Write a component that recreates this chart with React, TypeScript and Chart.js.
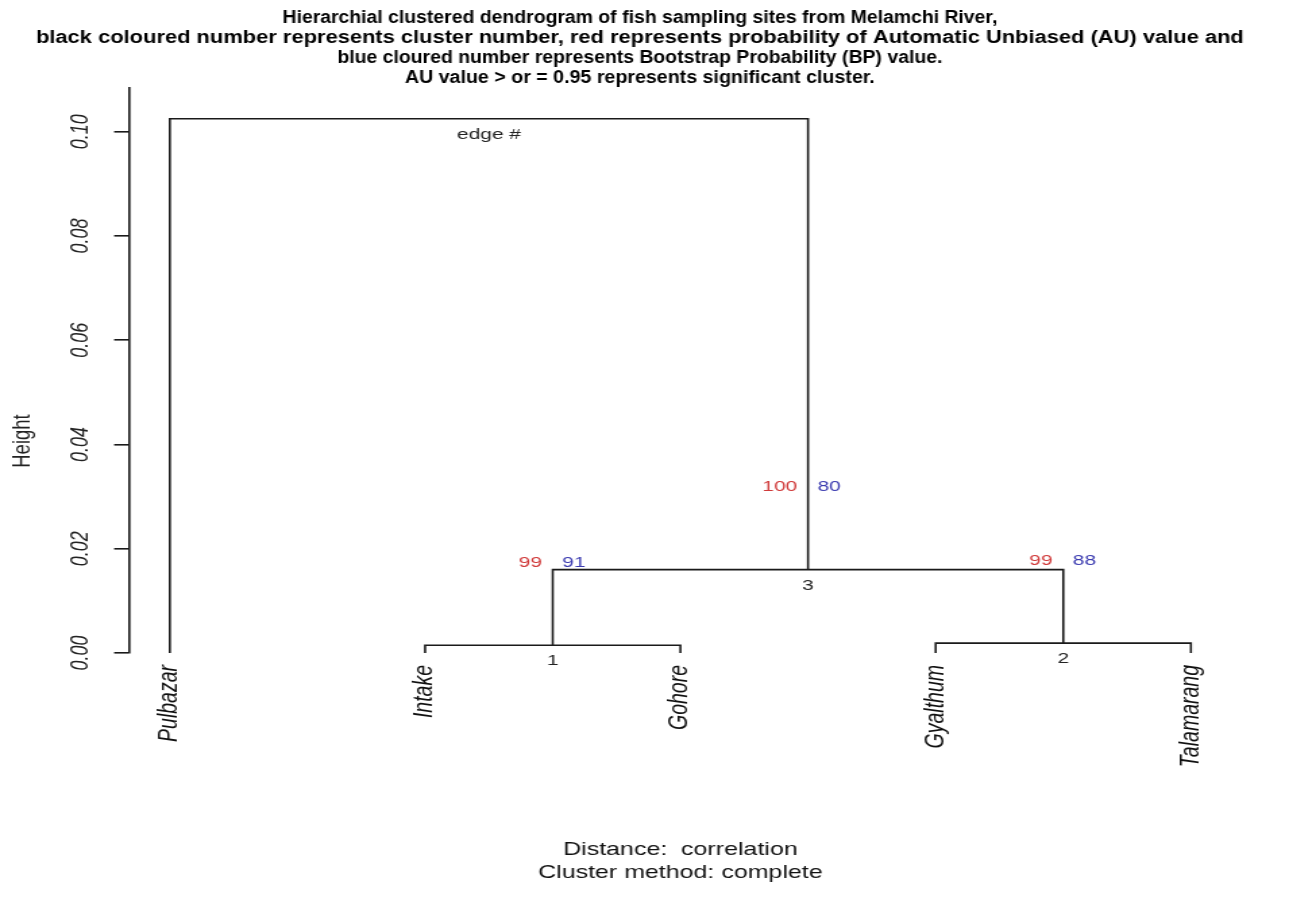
import React, { useEffect, useRef } from 'react';
import { Chart, registerables } from 'chart.js';

Chart.register(...registerables);

// ---------- data ----------
const leafLabels = ['Pulbazar', 'Intake', 'Gohore', 'Gyalthum', 'Talamarang'];
// hclust-style merge matrix: negative = leaf number, positive = earlier merge
const mergeLeft = [-2, -4, 1, -1];
const mergeRight = [-3, -5, 2, 3];
const mergeHeights = [0.0015, 0.0019, 0.016, 0.1025];
const auValues = [99, 99, 100];
const bpValues = [91, 88, 80];
const edgeLabels = ['1', '2', '3', 'edge #'];
const yTickValues = [0, 0.02, 0.04, 0.06, 0.08, 0.1];
const yTickLabels = ['0.00', '0.02', '0.04', '0.06', '0.08', '0.10'];
const titleLines = [
  'Hierarchial clustered dendrogram of fish sampling sites from Melamchi River,',
  'black coloured number represents cluster number, red represents probability of Automatic Unbiased (AU) value and',
  'blue cloured number represents Bootstrap Probability (BP) value.',
  'AU value > or = 0.95 represents significant cluster.',
];
const xTitleLines = ['Distance:  correlation', 'Cluster method: complete'];
const yTitle = 'Height';

// ---------- layout ----------
const S = 1.35; // horizontal stretch of the picture
const SCREEN_W = 1289;
const SCREEN_H = 909;
const W0 = Math.round(SCREEN_W / S);
const TICK = 11;
const FONT = '"Liberation Sans", Arial, Helvetica, sans-serif';
const PV_OFFSET = 0.015;
const TITLE_WIDTHS = [715, 1208, 605, 470]; // on-screen widths of title lines
const TITLE_BASE = [23, 43, 63, 83];

type P = { x: number; y: number };

function buildNodes(): P[] {
  const nodes: P[] = [];
  const pos = (r: number): P => (r < 0 ? { x: -r, y: 0 } : nodes[r - 1]);
  for (let i = 0; i < mergeHeights.length; i++) {
    const l = pos(mergeLeft[i]);
    const r = pos(mergeRight[i]);
    nodes.push({ x: (l.x + r.x) / 2, y: mergeHeights[i] });
  }
  return nodes;
}

export default function App() {
  const ref = useRef<HTMLCanvasElement | null>(null);

  useEffect(() => {
    if (!ref.current) return;
    const nodes = buildNodes();
    const pos = (r: number): P => (r < 0 ? { x: -r, y: 0 } : nodes[r - 1]);

    const datasets = mergeHeights.map((h, i) => {
      const l = pos(mergeLeft[i]);
      const r = pos(mergeRight[i]);
      return {
        label: 'merge ' + (i + 1),
        data: [
          { x: l.x, y: l.y },
          { x: l.x, y: h },
          { x: r.x, y: h },
          { x: r.x, y: r.y },
        ],
        borderColor: '#1a1a1a',
        borderWidth: 1.6,
        pointRadius: 0,
        fill: false,
        tension: 0,
      };
    });

    const textPlugin = {
      id: 'dendroText',
      afterDraw(chart: any) {
        const ctx = chart.ctx as CanvasRenderingContext2D;
        const xs = chart.scales.x;
        const ys = chart.scales.y;
        ctx.save();

        // title
        ctx.fillStyle = '#000';
        ctx.font = `bold 17.5px ${FONT}`;
        ctx.textAlign = 'center';
        ctx.textBaseline = 'alphabetic';
        titleLines.forEach((t, i) => {
          const natural = ctx.measureText(t).width;
          const sx = TITLE_WIDTHS[i] / S / natural;
          ctx.save();
          ctx.translate(640 / S, TITLE_BASE[i]);
          ctx.scale(sx, 1);
          ctx.fillText(t, 0, 0);
          ctx.restore();
        });

        // y tick labels
        ctx.font = `italic 18px ${FONT}`;
        ctx.fillStyle = '#222';
        yTickValues.forEach((v, i) => {
          const py = ys.getPixelForValue(v);
          ctx.save();
          ctx.translate(88 / S, py);
          ctx.rotate(-Math.PI / 2);
          ctx.textAlign = 'center';
          ctx.textBaseline = 'alphabetic';
          ctx.fillText(yTickLabels[i], 0, 0);
          ctx.restore();
        });

        // y title
        ctx.font = `18.5px ${FONT}`;
        ctx.save();
        ctx.translate(30 / S, 441);
        ctx.rotate(-Math.PI / 2);
        ctx.textAlign = 'center';
        ctx.textBaseline = 'alphabetic';
        ctx.fillText(yTitle, 0, 0);
        ctx.restore();

        // leaf labels
        ctx.font = `italic 19.5px ${FONT}`;
        ctx.fillStyle = '#111';
        leafLabels.forEach((lab, i) => {
          const px = xs.getPixelForValue(i + 1);
          ctx.save();
          ctx.translate(px, 665);
          ctx.rotate(-Math.PI / 2);
          ctx.textAlign = 'right';
          ctx.textBaseline = 'middle';
          ctx.fillText(lab, 0, 0);
          ctx.restore();
        });

        // AU / BP values
        ctx.font = `15.5px ${FONT}`;
        ctx.textBaseline = 'alphabetic';
        auValues.forEach((au, i) => {
          const n = nodes[i];
          const px = xs.getPixelForValue(n.x);
          const py = ys.getPixelForValue(n.y + PV_OFFSET);
          ctx.fillStyle = '#d03a3a';
          ctx.textAlign = 'right';
          ctx.fillText(String(au), px - 8, py);
          ctx.fillStyle = '#3b3bb0';
          ctx.textAlign = 'left';
          ctx.fillText(String(bpValues[i]), px + 7, py);
        });

        // edge numbers
        ctx.font = `15.5px ${FONT}`;
        ctx.fillStyle = '#222';
        ctx.textAlign = 'center';
        ctx.textBaseline = 'top';
        edgeLabels.forEach((e, i) => {
          const n = nodes[i];
          ctx.fillText(e, xs.getPixelForValue(n.x), ys.getPixelForValue(n.y) + 8);
        });

        // x titles
        ctx.font = `18.5px ${FONT}`;
        ctx.fillStyle = '#111';
        ctx.textBaseline = 'alphabetic';
        const cx = (chart.chartArea.left + chart.chartArea.right) / 2;
        ctx.fillText(xTitleLines[0], cx, 855);
        ctx.fillText(xTitleLines[1], cx, 878);

        ctx.restore();
      },
    };

    const chart = new Chart(ref.current, {
      type: 'line',
      data: { datasets } as any,
      options: {
        responsive: false,
        animation: false,
        devicePixelRatio: 1,
        parsing: false as any,
        layout: {
          padding: {
            left: 129 / S - TICK,
            right: W0 - 1232 / S,
            top: 88,
            bottom: SCREEN_H - 653,
          },
        },
        plugins: {
          legend: { display: false },
          tooltip: { enabled: false },
          title: { display: false },
        },
        scales: {
          x: { type: 'linear', min: 0.84, max: 5.16, display: false },
          y: {
            type: 'linear',
            min: 0,
            max: 0.1084,
            afterBuildTicks: (s: any) => {
              s.ticks = yTickValues.map((v) => ({ value: v }));
            },
            afterFit: (s: any) => {
              s.width = TICK;
            },
            ticks: { display: false },
            grid: {
              drawOnChartArea: false,
              drawTicks: true,
              tickLength: TICK,
              color: '#1a1a1a',
              lineWidth: 1.6,
            },
            border: { display: true, color: '#1a1a1a', width: 1.6 },
          },
        },
      } as any,
      plugins: [textPlugin],
    });
    return () => chart.destroy();
  }, []);

  return (
    <div style={{ position: 'absolute', left: 0, top: 0, width: SCREEN_W, height: SCREEN_H, background: '#fff' }}>
      <canvas
        ref={ref}
        width={W0}
        height={SCREEN_H}
        style={{ width: SCREEN_W + 'px', height: SCREEN_H + 'px', display: 'block' }}
      />
    </div>
  );
}
